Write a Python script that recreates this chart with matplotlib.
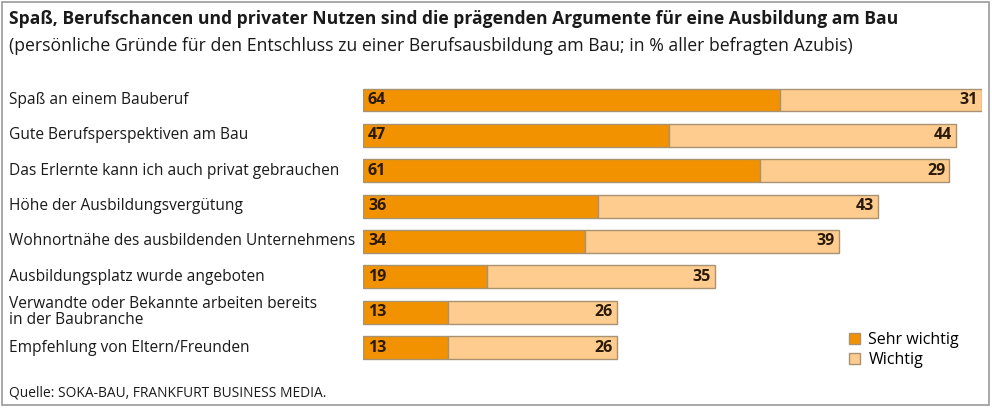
import matplotlib.pyplot as plt
from matplotlib.patches import Rectangle, Patch

plt.rcParams['font.family'] = ['Open Sans', 'DejaVu Sans']

categories = [
    "Spaß an einem Bauberuf",
    "Gute Berufsperspektiven am Bau",
    "Das Erlernte kann ich auch privat gebrauchen",
    "Höhe der Ausbildungsvergütung",
    "Wohnortnähe des ausbildenden Unternehmens",
    "Ausbildungsplatz wurde angeboten",
    "Verwandte oder Bekannte arbeiten bereits\nin der Baubranche",
    "Empfehlung von Eltern/Freunden",
]
sehr_wichtig = [64, 47, 61, 36, 34, 19, 13, 13]
wichtig = [31, 44, 29, 43, 39, 35, 26, 26]
series_names = ["Sehr wichtig", "Wichtig"]

title = "Spaß, Berufschancen und privater Nutzen sind die prägenden Argumente für eine Ausbildung am Bau"
subtitle = "(persönliche Gründe für den Entschluss zu einer Berufsausbildung am Bau; in % aller befragten Azubis)"
source = "Quelle: SOKA-BAU, FRANKFURT BUSINESS MEDIA."

dark = "#F39200"
light = "#FDCC8E"
edge = "#A89272"
num_color = "#2A1A0A"

W, H = 992, 412
fig = plt.figure(figsize=(W / 100, H / 100), dpi=100)

# outer frame
fig.patches.append(Rectangle((2 / W, 7 / H), 987 / W, 403 / H, transform=fig.transFigure,
                             fill=False, edgecolor="#9A9A9A", linewidth=1.2))

fig.text(9 / W, 1 - 19 / H, title, fontsize=12.6, fontweight='bold', va='center', color="#1a1a1a")
fig.text(9 / W, 1 - 46 / H, subtitle, fontsize=12.7, va='center', color="#1a1a1a")
fig.text(9 / W, 1 - 393 / H, source, fontsize=9.9, va='center', color="#1a1a1a")

pitch = 35.36
top = 100 - pitch / 2
bottom = 347.5 + pitch / 2
ax = fig.add_axes([363 / W, 1 - bottom / H, (982 - 363) / W, (bottom - top) / H])
ax.set_xlim(0, 95)
n = len(categories)
ax.set_ylim(n - 0.5, -0.5)
ax.axis('off')

y = list(range(n))
ax.barh(y, sehr_wichtig, height=0.65, color=dark, edgecolor=edge, linewidth=1)
ax.barh(y, wichtig, left=sehr_wichtig, height=0.65, color=light, edgecolor=edge, linewidth=1)

for i, (a, b) in enumerate(zip(sehr_wichtig, wichtig)):
    ax.annotate(str(a), (0, i), xytext=(5, 0), textcoords='offset pixels',
                ha='left', va='center', fontsize=11.5, fontweight='bold', color=num_color)
    ax.annotate(str(b), (a + b, i), xytext=(-4, 0), textcoords='offset pixels',
                ha='right', va='center', fontsize=11.5, fontweight='bold', color=num_color)
    ax.annotate(categories[i], (0, i), xycoords='data', xytext=(9 - 363, 0),
                textcoords='offset pixels', ha='left', va='center', fontsize=11.2,
                color="#1a1a1a", linespacing=1.0)

handles = [Patch(facecolor=dark, edgecolor=edge), Patch(facecolor=light, edgecolor=edge)]
fig.legend(handles, series_names, loc='upper left', bbox_to_anchor=(841 / W, 1 - 324 / H),
           frameon=False, fontsize=11.5, handlelength=0.72, handleheight=0.72,
           handletextpad=0.5, labelspacing=0.25, borderpad=0)

fig.savefig("out.png", dpi=100)
